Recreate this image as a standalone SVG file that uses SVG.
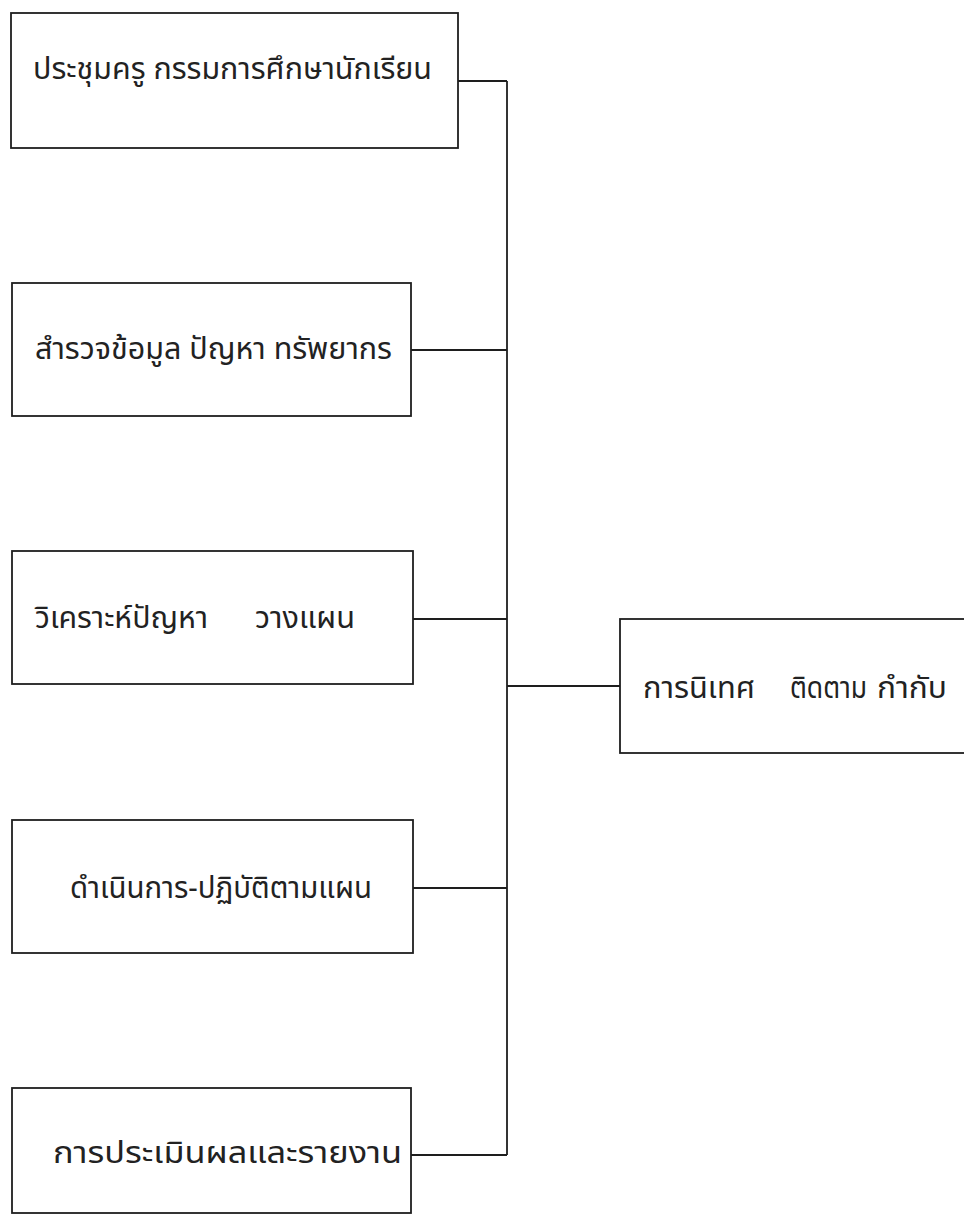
<svg xmlns="http://www.w3.org/2000/svg" width="964" height="1215" viewBox="0 0 964 1215">
<style>
.box{fill:#fff;stroke:#1e1e1e;stroke-width:1.8}
.conn{fill:none;stroke:#1e1e1e;stroke-width:1.8}
.lbl{font-family:"Noto Sans Thai","Noto Sans","DejaVu Sans",sans-serif;font-size:31px;fill:#222}
</style>
<rect width="964" height="1215" fill="#fff"/>
<g id="connectors">
<path class="conn" d="M507 81V1155"/>
<path class="conn" d="M458 81H507"/>
<path class="conn" d="M411 350H507"/>
<path class="conn" d="M413 619H507"/>
<path class="conn" d="M413 888H507"/>
<path class="conn" d="M411 1155H507"/>
<path class="conn" d="M507 686H620"/>
</g>
<g id="n1">
<rect class="box" x="11" y="13" width="447" height="135"/>
<text class="lbl" x="33" y="79" textLength="399" lengthAdjust="spacingAndGlyphs">ประชุมครู กรรมการศึกษานักเรียน</text>
</g>
<g id="n2">
<rect class="box" x="12" y="283" width="399" height="133"/>
<text class="lbl" x="35" y="359" textLength="357" lengthAdjust="spacingAndGlyphs">สำรวจข้อมูล ปัญหา ทรัพยากร</text>
</g>
<g id="n3">
<rect class="box" x="12" y="551" width="401" height="133"/>
<text class="lbl" y="628"><tspan x="35" textLength="173" lengthAdjust="spacingAndGlyphs">วิเคราะห์ปัญหา</tspan><tspan x="255" textLength="100" lengthAdjust="spacingAndGlyphs">วางแผน</tspan></text>
</g>
<g id="n4">
<rect class="box" x="12" y="820" width="401" height="133"/>
<text class="lbl" x="70" y="898" textLength="302" lengthAdjust="spacingAndGlyphs">ดำเนินการ-ปฏิบัติตามแผน</text>
</g>
<g id="n5">
<rect class="box" x="12" y="1088" width="399" height="125"/>
<text class="lbl" x="53" y="1163" textLength="349" lengthAdjust="spacingAndGlyphs">การประเมินผลและรายงาน</text>
</g>
<g id="n6">
<rect class="box" x="620" y="619" width="360" height="134"/>
<text class="lbl" y="698"><tspan x="643" textLength="112" lengthAdjust="spacingAndGlyphs">การนิเทศ</tspan><tspan x="790" textLength="77" lengthAdjust="spacingAndGlyphs">ติดตาม</tspan><tspan x="877" textLength="70" lengthAdjust="spacingAndGlyphs">กำกับ</tspan></text>
</g>
</svg>
